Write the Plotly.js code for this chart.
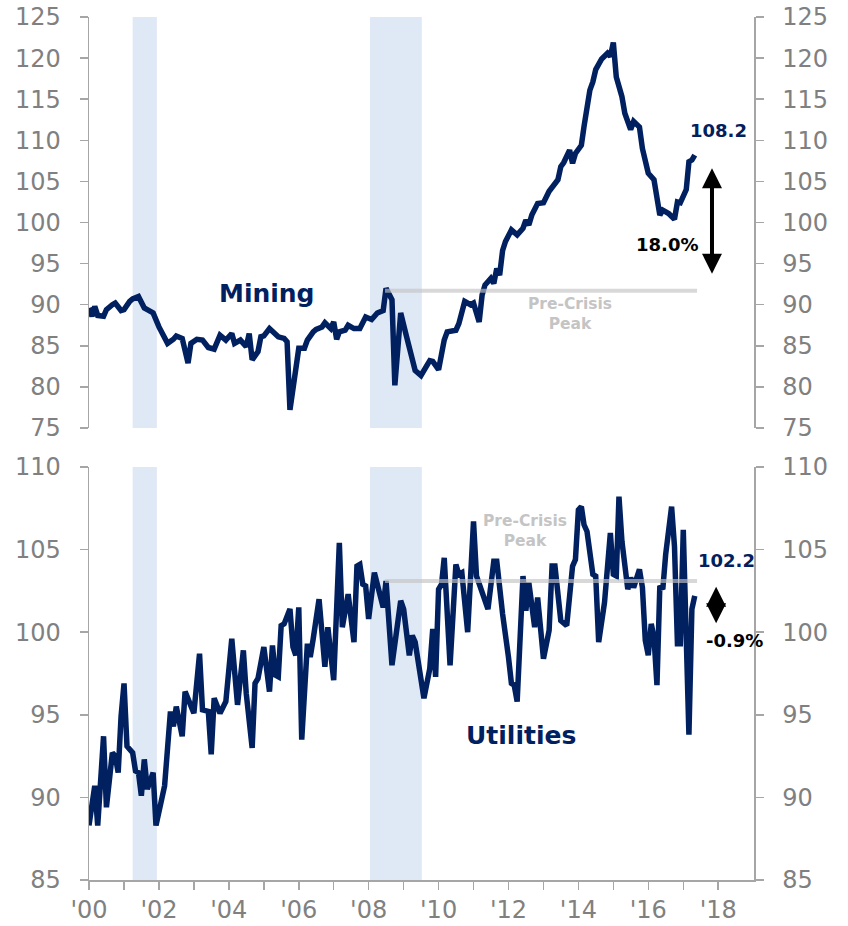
<!DOCTYPE html>
<html>
<head>
<meta charset="utf-8">
<script src="https://cdn.plot.ly/plotly-3.0.1.min.js"></script>
<style>html,body{margin:0;padding:0;background:#fff}</style>
</head>
<body>
<div id="chart" style="width:848px;height:926px"></div>
<script>
// --- data (index, monthly) ---
const miningDates = ['2000-01','2000-02','2000-03','2000-04','2000-06','2000-07','2000-09','2000-10','2000-12',
  '2001-01','2001-03','2001-04','2001-06','2001-08','2001-09','2001-11',
  '2002-01','2002-02','2002-04','2002-06','2002-07','2002-09','2002-11','2002-12',
  '2003-02','2003-04','2003-06','2003-08','2003-10','2003-12',
  '2004-02','2004-03','2004-05','2004-07','2004-08','2004-09','2004-11','2004-12',
  '2005-01','2005-03','2005-04','2005-06','2005-08','2005-09','2005-10','2005-11',
  '2006-01','2006-03','2006-04','2006-06','2006-07','2006-09','2006-10','2006-12',
  '2007-01','2007-02','2007-03','2007-05','2007-06','2007-08','2007-10','2007-12',
  '2008-02','2008-04','2008-06','2008-07','2008-09','2008-10','2008-12',
  '2009-02','2009-05','2009-07','2009-10','2009-11',
  '2010-01','2010-03','2010-04','2010-07','2010-08','2010-10','2010-12',
  '2011-01','2011-03','2011-04','2011-05','2011-07','2011-08','2011-09','2011-10','2011-11','2011-12',
  '2012-02','2012-04','2012-06','2012-07','2012-08','2012-09','2012-11',
  '2013-01','2013-03','2013-05','2013-06','2013-07','2013-08','2013-10','2013-11','2013-12',
  '2014-02','2014-03','2014-05','2014-06','2014-07','2014-09','2014-11','2014-12',
  '2015-01','2015-02','2015-04','2015-05','2015-07','2015-08','2015-10','2015-11',
  '2016-01','2016-03','2016-05','2016-06','2016-08','2016-10','2016-11','2016-12',
  '2017-02','2017-03','2017-04','2017-05'];
const miningValues = [89.6,88.6,89.8,88.7,88.6,89.4,90.0,90.2,89.3,
  89.4,90.4,90.7,91.0,89.6,89.4,89.0,
  87.3,86.7,85.3,85.8,86.2,85.9,82.9,85.3,
  85.8,85.7,84.8,84.6,86.3,85.7,
  86.5,85.3,85.7,84.9,86.5,83.3,84.3,86.1,
  86.2,87.1,86.7,86.1,85.9,85.5,77.2,79.6,
  84.7,84.7,85.7,86.7,87.0,87.3,87.8,87.1,
  87.9,85.8,86.7,86.9,87.5,87.1,87.1,88.5,
  88.2,89.0,89.3,92.0,90.6,80.2,89.0,
  86.1,82.0,81.4,83.2,83.1,
  82.1,85.7,86.7,86.9,87.7,90.4,90.0,
  90.2,87.9,91.2,92.4,93.2,92.6,94.4,93.6,96.6,97.7,
  99.1,98.5,99.3,100.3,99.7,100.9,102.3,
  102.4,103.8,104.8,105.2,106.8,107.3,108.8,107.2,108.4,
  109.4,111.7,116.1,117.1,118.6,119.9,120.6,120.2,
  121.9,117.7,115.3,113.3,111.3,112.3,111.6,109.0,
  106.0,105.2,100.9,101.5,101.1,100.4,102.5,102.4,
  104.0,107.4,107.6,108.2];

const utilDates = ['2000-01','2000-02','2000-03','2000-04','2000-06','2000-07','2000-09','2000-10','2000-11','2000-12',
  '2001-01','2001-02','2001-04','2001-05','2001-06','2001-07','2001-08','2001-09','2001-11','2001-12',
  '2002-02','2002-03','2002-05','2002-06','2002-07','2002-09','2002-10',
  '2003-01','2003-03','2003-04','2003-06','2003-07','2003-08','2003-10','2003-12',
  '2004-02','2004-04','2004-06','2004-07','2004-09','2004-10','2004-11',
  '2005-01','2005-03','2005-04','2005-05','2005-06','2005-07','2005-08','2005-10','2005-11','2005-12',
  '2006-01','2006-02','2006-04','2006-05','2006-06','2006-08','2006-10','2006-11',
  '2007-01','2007-03','2007-04','2007-06','2007-08','2007-09','2007-10','2007-11','2007-12',
  '2008-01','2008-03','2008-04','2008-06','2008-07','2008-09','2008-12',
  '2009-01','2009-03','2009-04','2009-05','2009-08','2009-10','2009-11','2009-12',
  '2010-01','2010-02','2010-03','2010-05','2010-07','2010-08','2010-09','2010-11',
  '2011-01','2011-02','2011-04','2011-06','2011-08','2011-09','2011-11','2011-12',
  '2012-01','2012-02','2012-03','2012-04','2012-06','2012-07','2012-08','2012-10','2012-11',
  '2013-01','2013-03','2013-04','2013-05','2013-07','2013-09','2013-11','2013-12',
  '2014-01','2014-02','2014-03','2014-04','2014-06','2014-07','2014-08','2014-10','2014-12',
  '2015-01','2015-02','2015-03','2015-04','2015-06','2015-07','2015-08','2015-10','2015-11','2015-12',
  '2016-01','2016-02','2016-03','2016-04','2016-05','2016-06','2016-07','2016-09','2016-10','2016-11','2016-12',
  '2017-01','2017-03','2017-04','2017-05'];
const utilValues = [88.3,89.8,90.7,88.3,93.7,89.4,92.7,92.5,91.5,94.9,
  96.9,93.1,92.7,91.6,91.5,90.1,92.3,90.5,91.5,88.3,
  90.0,90.7,95.2,94.3,95.5,93.7,96.4,
  95.1,98.7,95.3,95.2,92.6,96.0,95.1,95.8,
  99.6,95.6,98.9,96.3,93.0,96.9,97.2,
  99.1,96.4,99.2,97.4,97.3,100.4,100.5,101.4,99.1,98.6,
  101.5,93.5,99.3,98.5,99.6,102.0,97.9,100.3,
  97.1,105.4,100.3,102.3,99.4,104.0,104.1,102.9,102.8,
  100.8,103.6,102.8,101.5,103.1,98.0,101.9,
  101.4,98.6,99.8,99.4,96.0,97.8,100.2,97.3,
  102.6,102.9,104.5,98.0,104.1,103.5,103.6,100.0,
  106.7,103.4,102.4,101.4,104.3,104.3,101.1,100.0,
  98.5,96.9,96.8,95.8,103.4,101.3,103.0,100.3,102.1,
  98.4,100.1,104.0,104.0,100.7,100.4,104.0,104.4,
  107.4,107.6,106.5,106.1,103.5,103.4,99.4,101.8,106.0,
  103.5,103.4,108.2,105.5,102.6,103.3,102.7,103.8,102.7,99.5,
  98.6,100.5,99.7,96.8,102.8,102.6,104.7,107.6,105.2,99.3,99.3,
  106.2,93.8,101.4,102.2];

// recessions (shaded) and pre-crisis peaks
const recessionStart = ['2001-04-01', '2008-01-15'];
const recessionEnd = ['2001-12-10', '2009-07-10'];
const preCrisisFrom = '2008-06-20';
const preCrisisTo = '2017-05-25';
const miningPeak = 91.7;
const utilPeak = 103.1;

const years = [];
const yearLabels = [];
for (let y = 2000; y <= 2018; y++) {
  years.push(y + '-01-01');
  yearLabels.push(y % 2 === 0 ? "'" + String(y).slice(2) : '');
}

const navy = '#002060';
const axisGray = '#a6a6a6';
const bandColor = '#dfe8f5';
const fontFamily = 'DejaVu Sans, Verdana, sans-serif';
const tickFont = {family: fontFamily, size: 24, color: '#808080'};
const boldFont = (size, color) => ({family: fontFamily, size: size, color: color, weight: 'bold'});

function yAxis(range, extra) {
  return Object.assign({
    range: range, dtick: 5, tick0: 0,
    showgrid: false, zeroline: false,
    showline: true, linecolor: axisGray, linewidth: 1.5,
    ticks: 'outside', ticklen: 8, tickcolor: axisGray, tickwidth: 1.5,
    ticklabelstandoff: 14,
    tickfont: tickFont, fixedrange: true
  }, extra);
}

function lineTrace(x, y, yaxis, opacity) {
  return {
    x: x, y: y, xaxis: 'x', yaxis: yaxis,
    type: 'scatter', mode: 'lines', opacity: opacity,
    line: {color: navy, width: 5.5},
    hoverinfo: 'skip', showlegend: false
  };
}

// the right-hand axes need a trace each, so they get a see-through copy
const traces = [
  lineTrace(utilDates, utilValues, 'y4', 0),
  lineTrace(miningDates, miningValues, 'y3', 0),
  lineTrace(utilDates, utilValues, 'y', 1),
  lineTrace(miningDates, miningValues, 'y2', 1)
];

// shaded recession bands in both panels
const shapes = [];
recessionStart.forEach((s, i) => {
  ['y domain', 'y2 domain'].forEach(ref => {
    shapes.push({type: 'rect', xref: 'x', yref: ref, x0: s, x1: recessionEnd[i], y0: 0, y1: 1,
      fillcolor: bandColor, line: {width: 0}, layer: 'below'});
  });
});
shapes.push({type: 'line', xref: 'x', yref: 'y2', x0: preCrisisFrom, x1: preCrisisTo, y0: miningPeak, y1: miningPeak,
  line: {color: 'rgba(195,195,195,0.65)', width: 4}, layer: 'above'});
shapes.push({type: 'line', xref: 'x', yref: 'y', x0: preCrisisFrom, x1: preCrisisTo, y0: utilPeak, y1: utilPeak,
  line: {color: 'rgba(195,195,195,0.65)', width: 4}, layer: 'above'});

const lastMining = miningValues[miningValues.length - 1];
const lastUtil = utilValues[utilValues.length - 1];
const miningChange = (lastMining / miningPeak - 1) * 100;
const utilChange = (lastUtil / utilPeak - 1) * 100;

function label(text, x, y, font) {
  return {text: text, xref: 'paper', yref: 'paper', x: x, y: y, xanchor: 'center', yanchor: 'middle',
    showarrow: false, font: font, align: 'center'};
}

function doubleArrow(yref, x, yTop, yBottom) {
  return {text: '', xref: 'x', yref: yref, axref: 'x', ayref: yref, x: x, y: yTop, ax: x, ay: yBottom,
    showarrow: true, arrowside: 'end+start', arrowhead: 2, startarrowhead: 2,
    arrowsize: 1.0, startarrowsize: 1.0, arrowwidth: 4, arrowcolor: '#000', standoff: 0, startstandoff: 0};
}

const annotations = [
  label('Mining', 0.267, 0.680, boldFont(25, navy)),
  label('Utilities', 0.650, 0.168, boldFont(25, navy)),
  label(lastMining.toFixed(1), 0.946, 0.869, boldFont(18, navy)),
  label(lastUtil.toFixed(1), 0.958, 0.370, boldFont(18, navy)),
  label(miningChange.toFixed(1) + '%', 0.869, 0.736, boldFont(18, '#000')),
  label(utilChange.toFixed(1) + '%', 0.970, 0.277, boldFont(18, '#000')),
  label('Pre-Crisis<br>Peak', 0.723, 0.656, boldFont(15.5, '#c4c4c4')),
  label('Pre-Crisis<br>Peak', 0.656, 0.404, boldFont(15.5, '#c4c4c4')),
  doubleArrow('y2', '2017-10-28', 106.6, 93.6),
  doubleArrow('y', '2017-12-10', 102.75, 100.45)
];

const layout = {
  width: 848, height: 926,
  margin: {l: 89, r: 94, t: 17, b: 46},
  paper_bgcolor: '#fff', plot_bgcolor: 'rgba(0,0,0,0)',
  showlegend: false,
  xaxis: {
    type: 'date', anchor: 'y', range: ['2000-01-01', '2019-01-10'],
    tickmode: 'array', tickvals: years, ticktext: yearLabels,
    showgrid: false, zeroline: false, showline: true, linecolor: axisGray, linewidth: 1.5,
    ticks: 'outside', ticklen: 8, tickcolor: axisGray, tickwidth: 1.5,
    tickfont: tickFont, fixedrange: true
  },
  yaxis: yAxis([85, 110], {domain: [0, 0.4786], anchor: 'x'}),
  yaxis2: yAxis([75, 125], {domain: [0.5237, 1], anchor: 'x'}),
  yaxis3: yAxis([75, 125], {overlaying: 'y2', side: 'right', anchor: 'x'}),
  yaxis4: yAxis([85, 110], {overlaying: 'y', side: 'right', anchor: 'x'}),
  shapes: shapes,
  annotations: annotations
};

Plotly.newPlot('chart', traces, layout, {displayModeBar: false, staticPlot: true});
</script>
</body>
</html>
